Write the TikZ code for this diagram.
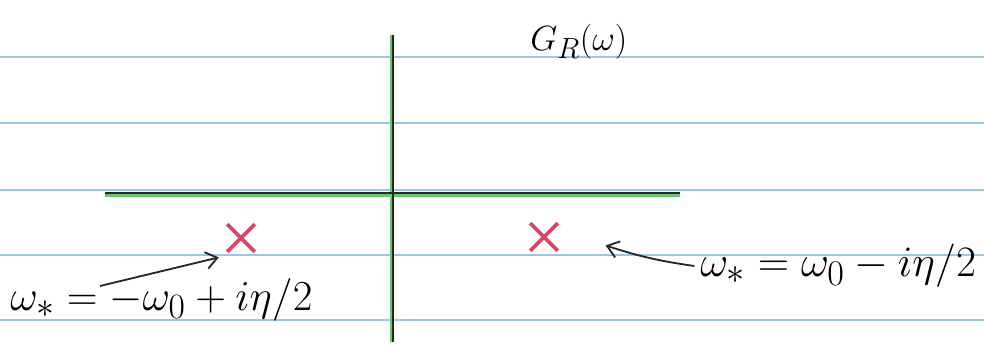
\documentclass[tikz,border=0pt]{standalone}
\usepackage{graphicx}
\usetikzlibrary{arrows.meta,shapes.misc}
\definecolor{rule}{RGB}{150,200,230}
\definecolor{axgreen}{RGB}{100,200,100}
\definecolor{polered}{RGB}{220,70,100}
\tikzset{
  ruling/.style={rule, line width=1.2pt},
  axisline/.style={black!85, line width=1.6pt},
  axisglow/.style={axgreen, line width=3pt},
  polemark/.style={cross out, draw=polered, line width=2.6pt, minimum size=17pt, inner sep=0pt},
  lbl/.style={font=\Huge, inner sep=0pt, anchor=west},
  pointer/.style={black!85, line width=1.3pt, -{Straight Barb[length=8pt,width=12pt]}}
}
\begin{document}
\begin{tikzpicture}[x=0.025cm, y=-0.025cm]
\useasboundingbox (0,0) rectangle (984,352);
\fill[white] (0,0) rectangle (984,352);
% ruled lines
\foreach \yy in {57,123,190,255,320}
  \draw[ruling] (0,\yy) -- (984,\yy);
% axes
\coordinate (hL) at (105,193);
\coordinate (hR) at (680,193);
\coordinate (vT) at (393,35);
\coordinate (vB) at (393,342);
\draw[axisglow] ([yshift=-1.5pt]hL) -- ([yshift=-1.5pt]hR);
\draw[axisglow, line width=2.5pt] ([xshift=-1pt]vT) -- ([xshift=-1pt]vB);
\draw[axisline] (hL) -- (hR);
\draw[axisline] (vT) -- (vB);
% title
\node[lbl] (title) at (530,42) {$G_R(\omega)$};
% poles
\node[polemark] (p1) at (241,238) {};
\node[polemark] (p2) at (544,237) {};
% labels
\node[lbl] (l1) at (10,300) {\scalebox{1.22}{$\omega_* = -\omega_0 + i\eta/2$}};
\node[lbl] (l2) at (700,266) {\scalebox{1.24}{$\omega_* = \omega_0 - i\eta/2$}};
% arrows
\coordinate (a1s) at (100,286);
\draw[pointer] (a1s) -- ([xshift=-6pt,yshift=-4pt]p1.south west);
\draw[pointer] ([xshift=-4pt]l2.west) to[bend left=5] ([xshift=34pt,yshift=-6pt]p2.east);
\end{tikzpicture}
\end{document}
